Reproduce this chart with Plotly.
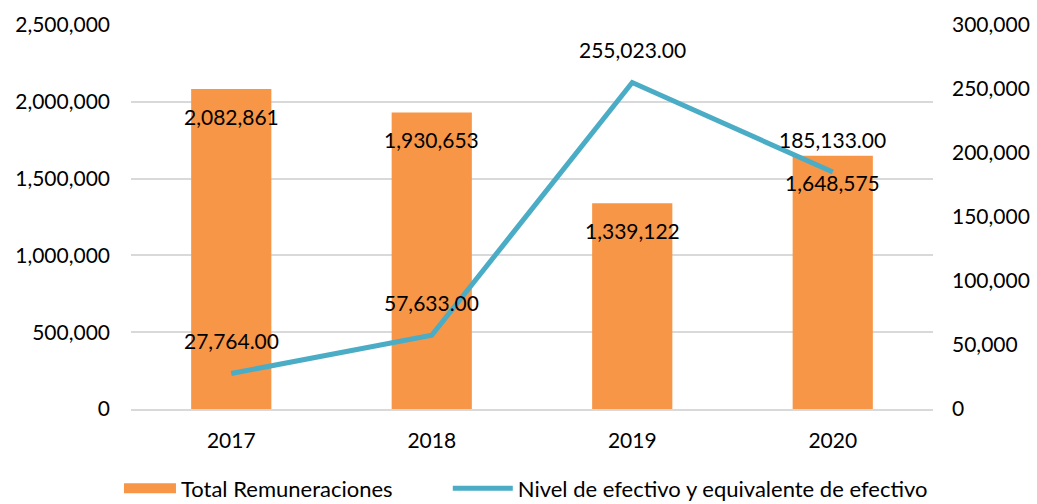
import plotly.graph_objects as go

years = ["2017", "2018", "2019", "2020"]
remuneraciones = [2082861, 1930653, 1339122, 1648575]
efectivo = [27764.00, 57633.00, 255023.00, 185133.00]
bar_labels = ["2,082,861", "1,930,653", "1,339,122", "1,648,575"]
line_labels = ["27,764.00", "57,633.00", "255,023.00", "185,133.00"]

FONT = "Lato"
FS = 21
ORANGE = "#F79646"
BLUE = "#4BACC6"

fig = go.Figure()
fig.add_trace(go.Bar(
    x=years, y=remuneraciones, name="Total Remuneraciones",
    marker=dict(color=ORANGE, line=dict(width=0)), width=0.4, showlegend=False,
))
# legend-only entry so the swatch is a wide orange block like the original
fig.add_trace(go.Scatter(
    x=[None], y=[None], name="Total Remuneraciones", mode="lines",
    line=dict(color=ORANGE, width=14), legend="legend",
))
fig.add_trace(go.Scatter(
    x=years, y=efectivo, name="Nivel de efectivo y equivalente de efectivo",
    mode="lines", line=dict(color=BLUE, width=5), yaxis="y2", legend="legend2",
))

# category positions by index (numeric-looking category names)
for i, (yv, t) in enumerate(zip(remuneraciones, bar_labels)):
    fig.add_annotation(x=i, y=yv, xref="x", yref="y", text=t, showarrow=False,
                       yshift=-27, font=dict(family=FONT, size=FS, color="#000"))
for i, (yv, t) in enumerate(zip(efectivo, line_labels)):
    fig.add_annotation(x=i, y=yv, xref="x", yref="y2", text=t, showarrow=False,
                       yshift=33, font=dict(family=FONT, size=FS, color="#000"))

fig.update_layout(
    width=1037, height=504,
    margin=dict(l=131, r=104, t=25, b=95, autoexpand=False),
    paper_bgcolor="white", plot_bgcolor="white",
    font=dict(family=FONT, size=FS, color="#000"),
    showlegend=True,
    legend=dict(orientation="h", x=-0.015, xanchor="left", y=-0.207, yanchor="middle",
                font=dict(family=FONT, size=22), itemwidth=52, bgcolor="rgba(0,0,0,0)"),
    legend2=dict(orientation="h", x=0.395, xanchor="left", y=-0.207, yanchor="middle",
                 font=dict(family=FONT, size=22), itemwidth=60, bgcolor="rgba(0,0,0,0)"),
    xaxis=dict(type="category", range=[-0.5, 3.5], showgrid=False, showline=True,
               linecolor="#D9D9D9", linewidth=1.5, ticks="", ticklabelstandoff=12,
               automargin=False),
    yaxis=dict(range=[0, 2500000], tickvals=[0, 500000, 1000000, 1500000, 2000000, 2500000],
               tickformat=",d", showgrid=True, gridcolor="#D9D9D9", gridwidth=1.5,
               zeroline=False, ticks="", ticklabelstandoff=20, automargin=False),
    yaxis2=dict(range=[0, 300000], tickvals=[0, 50000, 100000, 150000, 200000, 250000, 300000],
                tickformat=",d", overlaying="y", side="right", showgrid=False,
                zeroline=False, ticks="", ticklabelstandoff=18, automargin=False),
)

# remove the browser's default 8px page margin so the figure fills the window exactly
fig.write_html("out.html",
               config={"displayModeBar": False},
               post_script="document.body.style.margin='0';document.body.style.overflow='hidden';")
